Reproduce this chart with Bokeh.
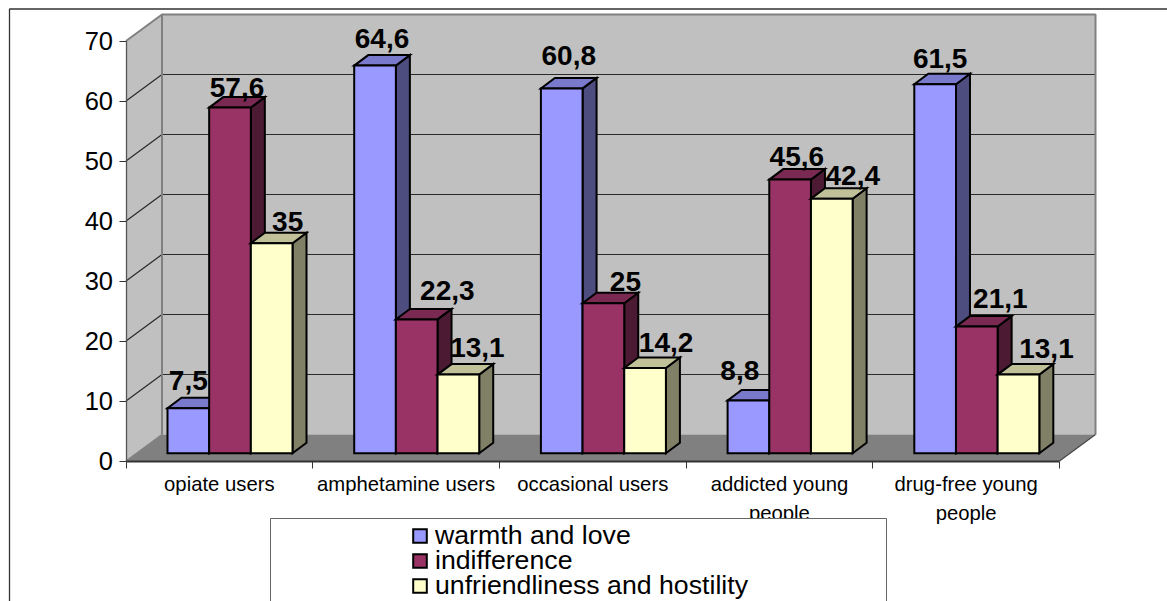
from bokeh.plotting import figure
from bokeh.models import Range1d, FixedTicker, Legend, LegendItem, BoxAnnotation, ColumnDataSource
from bokeh.core.properties import value
from bokeh.embed import file_html
from bokeh.resources import INLINE

# ---- data ----
categories = ["opiate users", "amphetamine users", "occasional users", "addicted young\npeople", "drug-free young\npeople"]
warmth = [7.5, 64.6, 60.8, 8.8, 61.5]
indifference = [57.6, 22.3, 25, 45.6, 21.1]
hostility = [35, 13.1, 14.2, 42.4, 13.1]
series_names = ["warmth and love", "indifference", "unfriendliness and hostility"]
y_ticks = [0, 10, 20, 30, 40, 50, 60, 70]
value_labels = [["7,5", "64,6", "60,8", "8,8", "61,5"],
                ["57,6", "22,3", "25", "45,6", "21,1"],
                ["35", "13,1", "14,2", "42,4", "13,1"]]

# ---- layout and style ----
FONT = "Liberation Sans"
W, H = 1167, 601
AX_X, AX_Y = 125.5, 460.5          # pixel of the axes' origin
PX_X = 186.7                       # pixels per category
PX_Y = 6.0                         # pixels per unit
WALL_DX, WALL_DY = 36 / PX_X, 26.5 / PX_Y      # depth of the 3D box
BAR_DX, BAR_DY = 14 / PX_X, 10.5 / PX_Y        # depth of a bar
BASE_DX, BASE_DY = 10.6 / PX_X, 7.8 / PX_Y     # bars stand this far into the box
GAP = 30.9 / PX_X
BAR_W = 41.67 / PX_X
front = ["#9999FF", "#993366", "#FFFFCC"]
side = ["#4D4D80", "#4D1A33", "#808066"]
top = ["#7A7ACC", "#7A2952", "#C0C099"]
label_dx = [[0, 7, 7, -8.6, 5], [7, 30.6, 22, 6.7, 23.5], [16, 19, 21, 21, 28]]
label_dy = [[-17.7, -17.4, -22.9, -19.9, -15.7], [-10.1, -18.9, -12, -13.4, -18.1], [-12.2, -17.4, -15.5, -13.3, -16.1]]
LABEL_FIX = -10
LEGEND_Y = [50, 25, 0]             # each legend row's height above the page bottom

p = figure(width=W, height=H, output_backend="svg", toolbar_location=None,
           x_range=Range1d(-AX_X / PX_X, (W - AX_X) / PX_X),
           y_range=Range1d((AX_Y - H) / PX_Y, AX_Y / PX_Y),
           min_border=0,
           background_fill_color="white", border_fill_color="white", outline_line_color=None)
p.grid.visible = False

# ---- box walls ----
n = len(categories)
ymax = y_ticks[-1]
p.patch([WALL_DX, n + WALL_DX, n + WALL_DX, WALL_DX], [WALL_DY, WALL_DY, ymax + WALL_DY, ymax + WALL_DY],
        fill_color="#C0C0C0", line_color=None)
p.patch([0, WALL_DX, WALL_DX, 0], [0, WALL_DY, ymax + WALL_DY, ymax], fill_color="#C0C0C0", line_color=None)
p.patch([0, n, n + WALL_DX, WALL_DX], [0, 0, WALL_DY, WALL_DY], fill_color="#808080", line_color=None)

gx = [[0, WALL_DX, n + WALL_DX] for t in y_ticks[1:-1]]
gy = [[t, t + WALL_DY, t + WALL_DY] for t in y_ticks[1:-1]]
p.multi_line(gx, gy, line_color="#2A2A2A", line_width=1.2)

p.line([0, WALL_DX, n + WALL_DX, n + WALL_DX], [ymax, ymax + WALL_DY, ymax + WALL_DY, WALL_DY],
       line_color="#808080", line_width=2)
p.line([WALL_DX, WALL_DX], [WALL_DY, ymax + WALL_DY], line_color="#808080", line_width=2)
p.line([0, WALL_DX], [0, WALL_DY], line_color="#808080", line_width=1.5)
p.line([n, n + WALL_DX], [0, WALL_DY], line_color="#444444", line_width=1.2)

# ---- bars ----
LW = 2
series = [warmth, indifference, hostility]
fronts = [None, None, None]
label_rows = dict(x=[], y=[], t=[], dx=[], dy=[])
for i in range(n):
    for j, vals in enumerate(series):
        v = vals[i]
        x0 = i + BASE_DX + GAP + j * BAR_W
        x1 = x0 + BAR_W
        y0 = BASE_DY
        y1 = BASE_DY + v
        p.patch([x1, x1 + BAR_DX, x1 + BAR_DX, x1], [y0, y0 + BAR_DY, y1 + BAR_DY, y1],
                fill_color=side[j], line_color="black", line_width=LW, line_join="miter")
        p.patch([x0, x1, x1 + BAR_DX, x0 + BAR_DX], [y1, y1, y1 + BAR_DY, y1 + BAR_DY],
                fill_color=top[j], line_color="black", line_width=LW, line_join="miter")
        r = p.patch([x0, x1, x1, x0], [y0, y0, y1, y1],
                    fill_color=front[j], line_color="black", line_width=LW, line_join="miter")
        if fronts[j] is None:
            fronts[j] = r
        label_rows["x"].append((x0 + x1) / 2)
        label_rows["y"].append(y1)
        label_rows["t"].append(value_labels[j][i])
        label_rows["dx"].append(label_dx[j][i])
        label_rows["dy"].append(label_dy[j][i] + LABEL_FIX)

p.text(x="x", y="y", text="t", x_offset="dx", y_offset="dy", source=ColumnDataSource(label_rows),
       text_font=value(FONT), text_font_style="bold", text_font_size="28px",
       text_align="center", text_baseline="alphabetic", text_color="black")

# ---- axes ----
ya = p.yaxis[0]
ya.fixed_location = 0
ya.bounds = (0, ymax)
ya.ticker = FixedTicker(ticks=y_ticks)
ya.axis_line_color = "#555555"
ya.axis_line_width = 1.3
ya.major_tick_out = 7
ya.major_tick_in = 0
ya.minor_tick_out = 0
ya.minor_tick_in = 0
ya.major_tick_line_color = "#333333"
ya.major_label_standoff = 6
ya.major_label_text_font = FONT
ya.major_label_text_font_size = "25.5px"
ya.major_label_text_color = "black"

xa = p.xaxis[0]
xa.fixed_location = 0
xa.bounds = (0, n)
mids = [i + 0.5 for i in range(n)]
xa.ticker = FixedTicker(ticks=mids, minor_ticks=list(range(n + 1)))
xa.major_label_overrides = dict(zip(mids, categories))
xa.axis_line_color = "#333333"
xa.axis_line_width = 2
xa.major_tick_out = 0
xa.major_tick_in = 0
xa.minor_tick_out = 7
xa.minor_tick_in = 0
xa.minor_tick_line_color = "#333333"
xa.major_label_standoff = 5
xa.major_label_text_font = FONT
xa.major_label_text_font_size = "20.3px"
xa.major_label_text_line_height = 1.33
xa.major_label_text_color = "black"

# ---- legend box and chart border ----
p.add_layout(BoxAnnotation(left=270, right=886, top=518, bottom=H + 20,
                           left_units="canvas", right_units="canvas", top_units="canvas", bottom_units="canvas",
                           fill_color="white", fill_alpha=1, line_color="#666666", line_alpha=1, line_width=1,
                           level="annotation"))
p.add_layout(BoxAnnotation(left=9, right=W + 20, top=8.5, bottom=H + 20,
                           left_units="canvas", right_units="canvas", top_units="canvas", bottom_units="canvas",
                           fill_alpha=0, line_color="#333333", line_alpha=1, line_width=1.3,
                           level="annotation"))

for k, s in enumerate(series_names):
    p.add_layout(Legend(items=[LegendItem(label=value(s), renderers=[fronts[k]])],
                        location=(411, LEGEND_Y[k]), padding=0, margin=0, spacing=0,
                        background_fill_alpha=0, border_line_color=None,
                        glyph_width=17, glyph_height=17, label_standoff=7, label_height=20,
                        label_text_font=FONT, label_text_font_size="26.7px", label_text_color="black",
                        level="overlay"), "center")

open("out.html", "w").write(file_html(p, INLINE))
